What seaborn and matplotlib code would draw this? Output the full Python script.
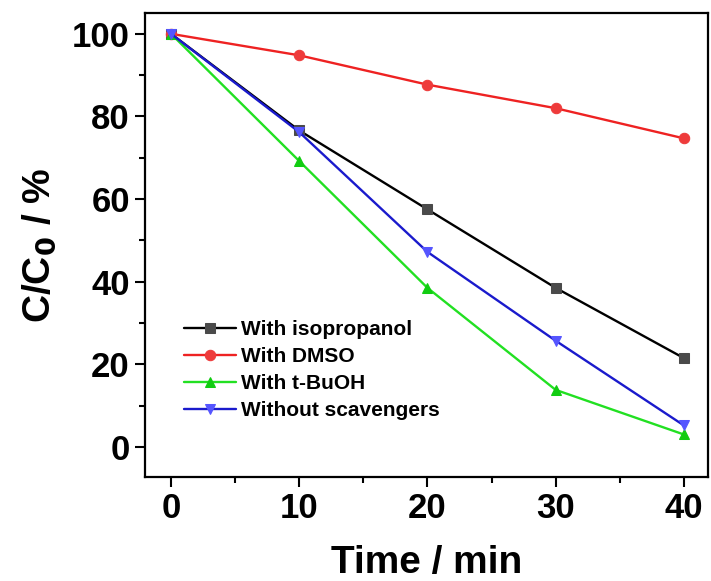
import matplotlib
matplotlib.use("Agg")
import matplotlib.pyplot as plt
import seaborn as sns
import pandas as pd
from matplotlib.ticker import MultipleLocator

time_min = [0, 10, 20, 30, 40]
isopropanol = [100, 76.6, 57.5, 38.5, 21.5]
dmso = [100, 94.8, 87.7, 82.0, 74.7]
tbuoh = [100, 69.2, 38.5, 13.8, 3.0]
without = [100, 76.2, 47.2, 25.7, 5.2]
labels = ["With isopropanol", "With DMSO", "With t-BuOH", "Without scavengers"]

sns.set_style("white")
plt.rcParams['font.family'] = ['Liberation Sans', 'DejaVu Sans']
plt.rcParams['font.weight'] = 'bold'
plt.rcParams['text.color'] = 'black'
plt.rcParams['axes.labelcolor'] = 'black'
plt.rcParams['xtick.color'] = 'black'
plt.rcParams['ytick.color'] = 'black'

fig = plt.figure(figsize=(7.11, 5.81), dpi=100)
ax = fig.add_axes([0.204, 0.179, 0.792, 0.799])

series = [
    (isopropanol, labels[0], "#000000", "s", "#4a4a4a"),
    (dmso, labels[1], "#ee2222", "o", "#ee3b3b"),
    (tbuoh, labels[2], "#22e022", "^", "#11cc11"),
    (without, labels[3], "#1a1acc", "v", "#5555ff"),
]
for vals, lab, col, mk, mfc in series:
    df = pd.DataFrame({"t": time_min, "v": vals})
    sns.lineplot(data=df, x="t", y="v", ax=ax, color=col, marker=mk,
                 markersize=7.5, markerfacecolor=mfc, markeredgecolor=mfc,
                 linewidth=1.7, label=lab)

ax.set_xlim(-2.03, 41.9)
ax.set_ylim(-7.3, 105.1)
ax.xaxis.set_major_locator(MultipleLocator(10))
ax.xaxis.set_minor_locator(MultipleLocator(5))
ax.yaxis.set_major_locator(MultipleLocator(20))
ax.yaxis.set_minor_locator(MultipleLocator(10))
ax.tick_params(which='major', direction='out', length=7, width=1.5,
               labelsize=25, bottom=True, left=True, pad=4, colors='black')
ax.tick_params(which='minor', direction='out', length=4, width=1.5,
               bottom=True, left=True, colors='black')
for lbl in ax.get_xticklabels() + ax.get_yticklabels():
    lbl.set_fontweight('bold')
for s in ax.spines.values():
    s.set_linewidth(1.6)
    s.set_color('black')

ax.set_xlabel("Time / min", fontsize=28, fontweight='bold', labelpad=14, color='black')
ax.set_ylabel("C/C$_\\mathbf{0}$ / %", fontsize=28, fontweight='bold', labelpad=10, color='black')

leg = ax.legend(loc='upper left', bbox_to_anchor=(0.054, 0.356), frameon=False,
                fontsize=15, handlelength=2.5, handletextpad=0.25,
                labelspacing=0.38, borderaxespad=0)
for t in leg.get_texts():
    t.set_fontweight('bold')
    t.set_color('black')

fig.savefig("out.png", dpi=100)
